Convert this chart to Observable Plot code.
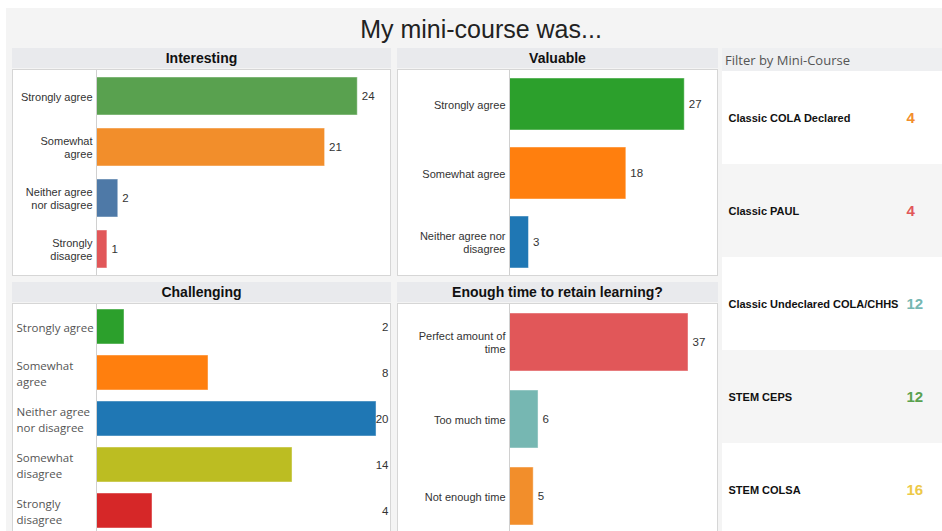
<!DOCTYPE html>
<html>
<head>
<meta charset="utf-8">
<script src="https://cdn.jsdelivr.net/npm/d3@7"></script>
<script src="https://cdn.jsdelivr.net/npm/@observablehq/plot@0.6"></script>
<style>
  html, body { margin: 0; padding: 0; background: #fff; }
  #page { position: relative; width: 942px; height: 531px; overflow: hidden; font-family: "Liberation Sans", Arial, sans-serif; }
  #bg { position: absolute; left: 6px; top: 8px; right: 0; bottom: 0; background: #f4f4f4; }
  #title { position: absolute; left: 20px; width: 922px; top: 15px; text-align: center; font-size: 25px; color: #222; }
  .hdr { position: absolute; height: 20px; line-height: 20px; background: #e9eaed; text-align: center; font-weight: bold; font-size: 14px; color: #111; }
  .body { position: absolute; background: #fff; overflow: hidden; }
  .border { position: absolute; border: 1px solid #d6d6d6; box-sizing: border-box; pointer-events: none; }
  #fhdr { position: absolute; left: 722px; top: 48px; width: 220px; height: 23px; line-height: 24px; background: #eeeff1; font-family: "Open Sans", sans-serif; font-size: 13px; color: #555; padding-left: 3px; box-sizing: border-box; }
</style>
</head>
<body>
<div id="page">
  <div id="bg"></div>
  <div id="title">My mini-course was...</div>
</div>
<script>
// ---- data ----
const interestingCats = ["Strongly agree", "Somewhat\nagree", "Neither agree\nnor disagree", "Strongly\ndisagree"];
const interestingVals = [24, 21, 2, 1];
const interestingColors = ["#59a14f", "#f28e2b", "#4e79a7", "#e15759"];

const valuableCats = ["Strongly agree", "Somewhat agree", "Neither agree nor\ndisagree"];
const valuableVals = [27, 18, 3];
const valuableColors = ["#2ca02c", "#ff7f0e", "#1f77b4"];

const challengingCats = ["Strongly agree", "Somewhat\nagree", "Neither agree\nnor disagree", "Somewhat\ndisagree", "Strongly\ndisagree"];
const challengingVals = [2, 8, 20, 14, 4];
const challengingColors = ["#2ca02c", "#ff7f0e", "#1f77b4", "#bcbd22", "#d62728"];

const timeCats = ["Perfect amount of\ntime", "Too much time", "Not enough time"];
const timeVals = [37, 6, 5];
const timeColors = ["#e15759", "#76b7b2", "#f28e2b"];

const courses = ["Classic COLA Declared", "Classic PAUL", "Classic Undeclared COLA/CHHS", "STEM CEPS", "STEM COLSA"];
const courseCounts = [4, 4, 12, 12, 16];
const courseColors = ["#f28e2b", "#e15759", "#76b7b2", "#59a14f", "#edc948"];

// ---- layout ----
const page = document.getElementById("page");
function addDiv(cls, left, top, w, h, html) {
  const d = document.createElement("div");
  d.className = cls;
  Object.assign(d.style, {left: left + "px", top: top + "px", width: w + "px", height: h + "px"});
  if (html != null) d.textContent = html;
  page.appendChild(d);
  return d;
}

function panel(cfg) {
  const {title, cats, vals, colors, left, top, width, height, marginLeft, xMax, rightLabels, leftLabels} = cfg;
  addDiv("hdr", left, top, width, 20, title);
  const bodyTop = top + 21;
  const body = addDiv("body", left, bodyTop, width, cfg.visibleHeight);
  const rows = cats.map((c, i) => ({cat: c, value: vals[i], color: colors[i]}));
  const marks = [
    Plot.barX(rows, {y: "cat", x: "value", fill: "color", stroke: "#ffffff", strokeOpacity: 0.45, strokeWidth: 1}),
    Plot.ruleX([0], {stroke: "#d0d0d0", strokeWidth: 1})
  ];
  if (rightLabels) {
    marks.push(Plot.text(rows, {y: "cat", text: d => String(d.value), frameAnchor: "right", dx: -3, textAnchor: "end", fill: "#333", fontSize: 11.5}));
  } else {
    marks.push(Plot.text(rows, {y: "cat", x: "value", text: d => String(d.value), dx: 4, textAnchor: "start", fill: "#333", fontSize: 11.5}));
  }
  if (leftLabels) {
    marks.push(Plot.text(rows, {y: "cat", text: "cat", frameAnchor: "left", dx: -(marginLeft - 4), textAnchor: "start", fill: "#555", fontSize: 11.5, fontFamily: "Open Sans", lineHeight: 1.4}));
  } else {
    marks.push(Plot.text(rows, {y: "cat", text: "cat", frameAnchor: "left", dx: -4, textAnchor: "end", fill: "#333", fontSize: 11, lineHeight: 1.2}));
  }
  const chart = Plot.plot({
    width, height,
    marginLeft, marginRight: 0, marginTop: 0, marginBottom: 0,
    style: {background: "transparent", fontFamily: "Liberation Sans, Arial, sans-serif", overflow: "visible"},
    x: {domain: [0, xMax], axis: null},
    y: {domain: cats, paddingInner: 0.25, paddingOuter: 0.125, axis: null},
    color: {type: "identity"},
    marks
  });
  chart.style.position = "absolute";
  chart.style.left = "0px";
  chart.style.top = "0px";
  body.appendChild(chart);
  addDiv("border", left, bodyTop, width, cfg.visibleHeight + (cfg.openBottom ? 4 : 0));
}

panel({title: "Interesting", cats: interestingCats, vals: interestingVals, colors: interestingColors,
  left: 12, top: 48, width: 379, height: 207, visibleHeight: 207, marginLeft: 84, xMax: 27.1});
panel({title: "Valuable", cats: valuableCats, vals: valuableVals, colors: valuableColors,
  left: 397, top: 48, width: 321, height: 207, visibleHeight: 207, marginLeft: 112, xMax: 32.2});
panel({title: "Challenging", cats: challengingCats, vals: challengingVals, colors: challengingColors,
  left: 12, top: 282, width: 379, height: 230, visibleHeight: 230, marginLeft: 84, xMax: 21.07, rightLabels: true, leftLabels: true, openBottom: true});
panel({title: "Enough time to retain learning?", cats: timeCats, vals: timeVals, colors: timeColors,
  left: 397, top: 282, width: 321, height: 231, visibleHeight: 231, marginLeft: 112, xMax: 43.2, openBottom: true});

// ---- filter panel ----
const fh = document.createElement("div");
fh.id = "fhdr";
fh.textContent = "Filter by Mini-Course";
page.appendChild(fh);

const frows = courses.map((c, i) => ({course: c, count: courseCounts[i], color: courseColors[i], shade: i % 2 ? "#f5f5f5" : "#ffffff"}));
const filt = Plot.plot({
  width: 220, height: 465,
  margin: 0,
  style: {background: "transparent", fontFamily: "Liberation Sans, Arial, sans-serif"},
  x: {axis: null},
  y: {domain: courses, padding: 0, axis: null},
  color: {type: "identity"},
  marks: [
    Plot.cell(frows, {y: "course", fill: "shade"}),
    Plot.text(frows, {y: "course", text: "course", frameAnchor: "left", dx: 6, textAnchor: "start", fontWeight: "bold", fontSize: 11, fill: "#111"}),
    Plot.text(frows, {y: "course", text: d => String(d.count), frameAnchor: "left", dx: 184, textAnchor: "start", fontWeight: "bold", fontSize: 15, fill: "color"})
  ]
});
filt.style.position = "absolute";
filt.style.left = "722px";
filt.style.top = "71px";
page.appendChild(filt);
</script>
</body>
</html>
